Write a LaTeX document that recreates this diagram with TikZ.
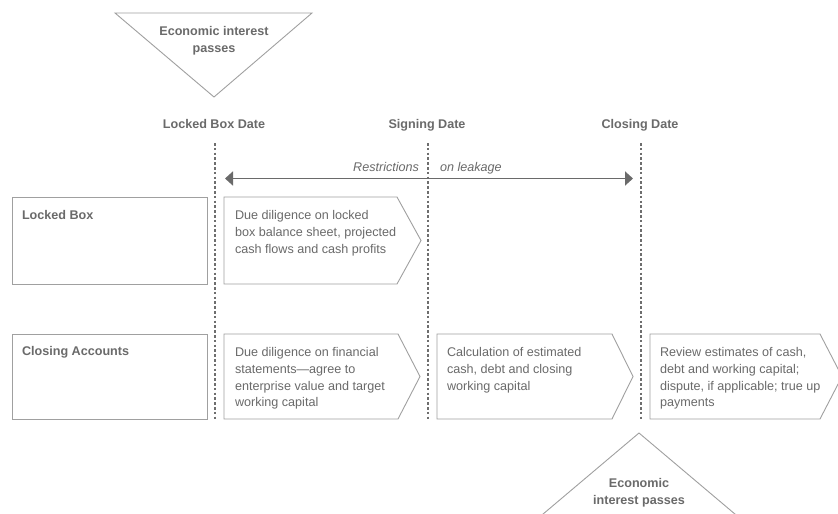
\documentclass[tikz,border=0pt]{standalone}
\usepackage{fontspec}
\setmainfont{Liberation Sans}
\usetikzlibrary{arrows.meta}
\definecolor{txt}{HTML}{6A6A6A}
\definecolor{boxline}{HTML}{A0A0A0}
\definecolor{dotc}{HTML}{6E6E6E}
\definecolor{arr}{HTML}{6A6A6A}
\begin{document}
\begin{tikzpicture}[x=1pt,y=-1pt,
  every node/.style={inner sep=0pt, outer sep=0pt, text=txt, font=\fontsize{12.6}{16.8}\selectfont},
  lbl/.style={font=\fontsize{12.6}{16.8}\selectfont\bfseries},
  ital/.style={font=\fontsize{12.6}{16.8}\selectfont\itshape},
  body/.style={anchor=base west, align=left},
  boxshape/.style={draw=boxline, line width=0.9pt},
  timeline/.style={draw=dotc, line width=2.8pt, dash pattern=on 2.6pt off 2.2pt},
  leak/.style={draw=arr, line width=1.8pt, {Triangle[length=8pt,width=14pt]}-{Triangle[length=8pt,width=14pt]}},
]
\useasboundingbox (0,0) rectangle (838,514);
\fill[white] (0,0) rectangle (838,514);
\clip (0,0) rectangle (838,514);

% top triangle (base anchor = last line baseline)
\draw[boxshape] (115,13) -- (312,13) -- (214,97) -- cycle;
\node[lbl, align=center, anchor=base] (eitop) at (214,52.3) {Economic interest\\passes};

% date headings
\node[lbl, anchor=base] (lbd) at (214,128.5) {Locked Box Date};
\node[lbl, anchor=base] (sgd) at (427,128.5) {Signing Date};
\node[lbl, anchor=base] (cld) at (640,128.5) {Closing Date};

% dotted timelines
\coordinate (t1) at (215,143); \coordinate (b1) at (215,419);
\coordinate (t2) at (428,143); \coordinate (b2) at (428,419);
\coordinate (t3) at (641,143); \coordinate (b3) at (641,419);
\draw[timeline] (t1) -- (b1);
\draw[timeline] (t2) -- (b2);
\draw[timeline] (t3) -- (b3);

% leakage arrow
\coordinate (aL) at (225,178.5);
\coordinate (aR) at (633,178.5);
\draw[leak] (aL) -- (aR);
\node[ital, anchor=base east] (restr) at (419,171) {Restrictions};
\node[ital, anchor=base west] (leak) at (440,171) {on leakage};

% row 1
\draw[boxshape] (12,197) rectangle (207,284);
\node[lbl, anchor=base west] (lb) at (22,219.5) {Locked Box};
\draw[boxshape] (224,197) -- (397,197) -- (421,240.5) -- (397,284) -- (224,284) -- cycle;
\node[body] (dd1) at (235,253.1) {Due diligence on locked\\box balance sheet, projected\\cash flows and cash profits};

% row 2
\draw[boxshape] (12,334) rectangle (207,419);
\node[lbl, anchor=base west] (ca) at (22,355.5) {Closing Accounts};
\draw[boxshape] (224,334) -- (398,334) -- (420,376.5) -- (398,419) -- (224,419) -- cycle;
\node[body] (dd2) at (235,406.9) {Due diligence on financial\\statements---agree to\\enterprise value and target\\working capital};
\draw[boxshape] (437,334) -- (612,334) -- (633,376.5) -- (612,419) -- (437,419) -- cycle;
\node[body] (calc) at (447,390.1) {Calculation of estimated\\cash, debt and closing\\working capital};
\draw[boxshape] (650,334) -- (820,334) -- (842,376.5) -- (820,419) -- (650,419) -- cycle;
\node[body] (rev) at (660,406.9) {Review estimates of cash,\\debt and working capital;\\dispute, if applicable; true up\\payments};

% bottom triangle
\draw[boxshape] (536,520) -- (639,433) -- (742,520);
\node[lbl, align=center, anchor=base] (eibot) at (639,504) {Economic\\interest passes};
\end{tikzpicture}
\end{document}
